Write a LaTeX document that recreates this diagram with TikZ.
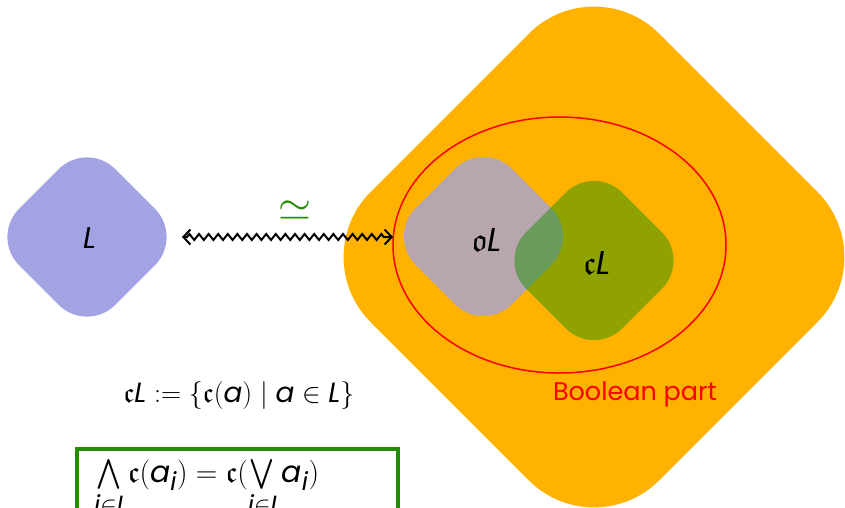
\documentclass[tikz,border=0pt]{standalone}
\usepackage{amsmath,amssymb}
\usepackage{graphicx}
\usepackage{fontspec}
\setmainfont{Poppins}
\usetikzlibrary{decorations.pathmorphing,arrows.meta,shapes.geometric}

\definecolor{lav}{RGB}{163,163,227}
\definecolor{amber}{RGB}{255,179,0}
\definecolor{leaf}{RGB}{22,145,0}
\definecolor{eqgreen}{RGB}{35,140,0}

% italic sans letters inside formulas
\newcommand{\vL}{\text{\itshape L}}
\newcommand{\va}{\text{\itshape a}}
\newcommand{\vI}{\text{\itshape I}}
\newcommand{\vi}{\text{\itshape i}}

\tikzset{
  rdiamond/.style={rectangle, rotate=45, inner sep=0pt, minimum size=#1},
  biglabel/.style={font=\fontsize{30}{34}\selectfont},
  mathlabel/.style={font=\fontsize{24.88}{29}\selectfont, inner sep=0pt},
}

\begin{document}
\begin{tikzpicture}[x=1pt,y=-1pt]
\useasboundingbox (0,0) rectangle (845,507);

% lattice L
\node[rdiamond=136pt, fill=lav, rounded corners=40pt] (Lbox) at (87,237) {};
\node[biglabel] (Ltext) at (90,238) {$\vL$};

% the big amber region
\node[rdiamond=408pt, fill=amber, rounded corners=92pt] (big) at (594,257) {};

% Boolean part
\node[ellipse, draw=red, line width=1.5pt, inner sep=0pt,
      minimum width=333pt, minimum height=256pt] (bool) at (559.5,245) {};
\node[text=red, font=\fontsize{25.5}{29}\selectfont] (booltext) at (635,394) {Boolean part};

% oL and cL
\node[rdiamond=136pt, fill=lav, fill opacity=0.77, rounded corners=40pt] (oLbox) at (483.5,236.5) {};
\node[rdiamond=136pt, fill=leaf, fill opacity=0.48, rounded corners=40pt] (cLbox) at (594,260.5) {};
\node[biglabel] (oLtext) at (487,240) {\scalebox{1.1}{$\mathfrak{o}\vL$}};
\node[biglabel] (cLtext) at (597,263) {\scalebox{1.1}{$\mathfrak{c}\vL$}};

% isomorphism arrow
\coordinate (arrL) at (182,237);
\coordinate (arrR) at (393,237);
\draw[line width=2pt,
      {Straight Barb[length=7pt,width=15pt]}-{Straight Barb[length=7pt,width=15pt]},
      decorate, decoration={zigzag, amplitude=3pt, segment length=9.6pt,
                            pre length=5pt, post length=5pt}]
  (arrL) -- (arrR);
\node[text=eqgreen, font=\fontsize{24.88}{29}\selectfont, inner sep=0pt] (iso) at (295,211)
  {\scalebox{1.7}{$\simeq$}};

% definition of cL
\node[mathlabel] (def) at (239,396)
  {\scalebox{1.12}{$\mathfrak{c}\vL \mathrel{:=} \{\mathfrak{c}(\va) \mid \va \in \vL\}$}};

% boxed identity
\node[draw=eqgreen, line width=3.5pt, anchor=north west,
      minimum width=321pt, minimum height=100pt] (box) at (75,447) {};
\node[mathlabel, anchor=base west] (ident) at (94,482)
  {\scalebox{1.2}{$\bigwedge\limits_{\vi\in\vI} \mathfrak{c}(\va_{\vi}) = \mathfrak{c}(\bigvee\limits_{\vi\in\vI} \va_{\vi})$}};
\end{tikzpicture}
\end{document}
